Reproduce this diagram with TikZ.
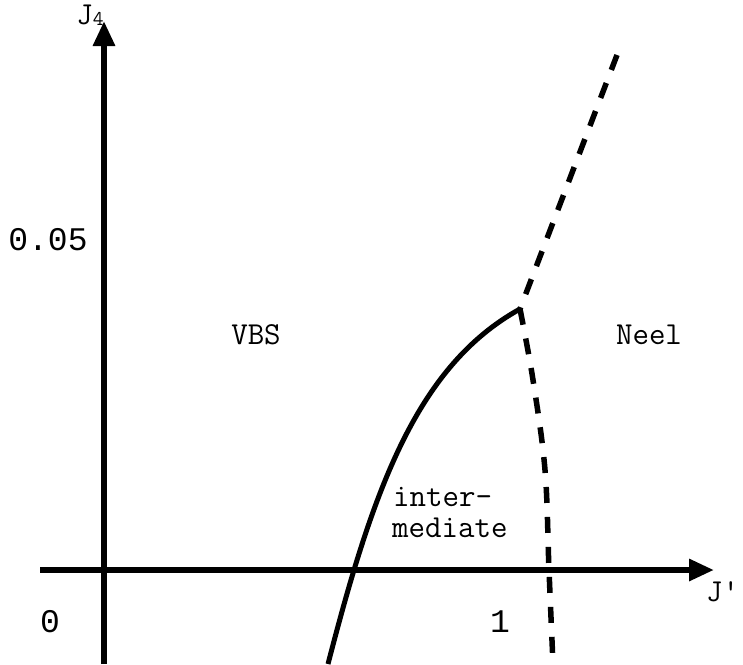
\documentclass[tikz,border=0pt]{standalone}
\usepackage{fontspec}
\newfontfamily\numfont{Liberation Mono}
\usetikzlibrary{arrows.meta}
\begin{document}
\begin{tikzpicture}[x=1pt,y=-1pt,
  lbl/.style={font=\ttfamily\fontsize{32}{36}\selectfont, inner sep=0pt, anchor=center},
  num/.style={font=\numfont\fontsize{33}{36}\selectfont, inner sep=0pt, anchor=center},
  axis/.style={line width=6pt, -{Triangle[width=21pt,length=25pt]}},
  phase/.style={line width=5pt},
  dashline/.style={line width=5.5pt, dash pattern=on 16pt off 14pt}]
\useasboundingbox (0,0) rectangle (743,664);
\coordinate (ybot) at (104,664);
\coordinate (ytop) at (104,21);
\coordinate (xleft) at (40,570);
\coordinate (xright) at (714,570);
\coordinate (J) at (520,309);
\coordinate (top) at (617,55);
\coordinate (sbot) at (328,664);
\draw[axis] (ybot) -- (ytop);
\draw[axis] (xleft) -- (xright);
\draw[phase] (sbot) .. controls (372,494) and (415,367) .. (J);
\draw[dashline] (top) -- (J);
\draw[dashline] plot[smooth, tension=0.6] coordinates {(520,309) (533,380) (545,470) (549,570) (553,664)};
\node[lbl, anchor=base] (j4) at (90,24) {J\raisebox{-1pt}{\fontsize{21}{22}\selectfont 4}};
\node[lbl, anchor=west] (jp) at (706,592) {J'};
\node[num] (y05) at (48,240) {0.05};
\node[lbl] (vbs) at (256,335) {VBS};
\node[lbl] (neel) at (649,335) {Neel};
\node[lbl, anchor=west] (inter) at (393,497) {inter-};
\node[lbl, anchor=west] (med) at (392,528) {mediate};
\node[num] (zero) at (50,622) {0};
\node[num] (one) at (500,622) {1};
\end{tikzpicture}
\end{document}
